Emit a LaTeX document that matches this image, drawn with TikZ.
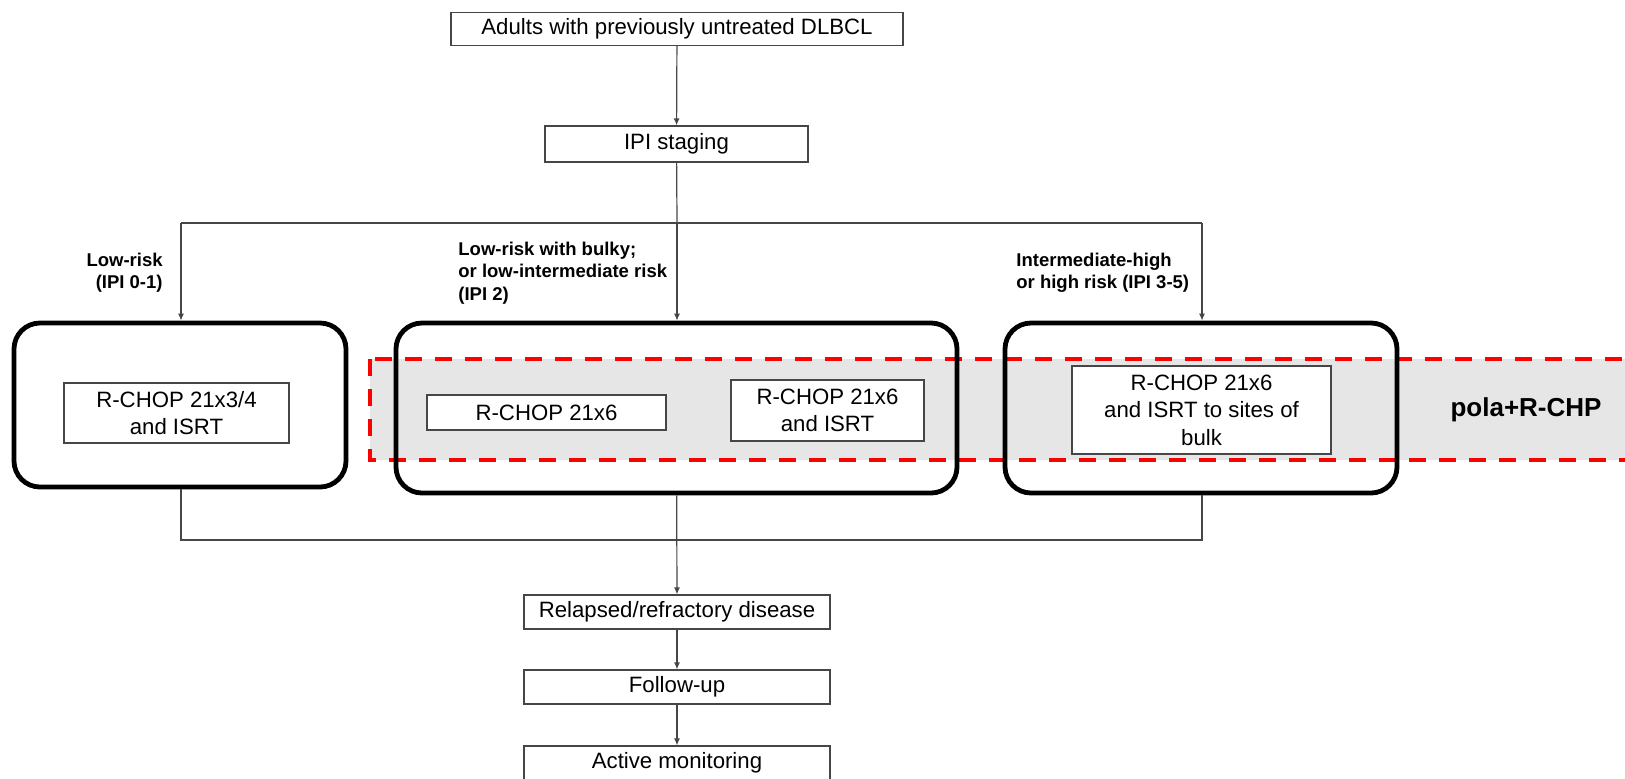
\documentclass[tikz,border=0pt]{standalone}
\usepackage{fontspec}
\setmainfont{Liberation Sans}
\usepackage{tikz}
\usetikzlibrary{arrows.meta, positioning}
\definecolor{bandgray}{RGB}{230,230,230}
\definecolor{linegray}{RGB}{70,70,70}

\begin{document}
\begin{tikzpicture}[x=0.5pt, y=-0.5pt, every node/.style={font=\fontsize{11.1}{13.7}\selectfont}]
    \tikzset{stepbox/.style={rectangle, draw=linegray, fill=white, line width=0.6pt,
                             minimum width=153pt, minimum height=17pt, align=center, inner sep=1pt},
             armbox/.style={rectangle, rounded corners=13pt, draw=black, line width=2.4pt,
                            minimum height=85pt},
             risk/.style={font=\fontsize{9.25}{11.2}\selectfont\bfseries, inner sep=0pt},
             arr/.style={-{Latex[length=3.5pt, width=3pt]}, linegray, line width=0.6pt},
             wire/.style={linegray, line width=0.6pt}}
    \clip (0,0) rectangle (1625,778);
    % pola+R-CHP band
    \fill[bandgray] (370,359) rectangle (1645,460);
    \draw[red, line width=1.7pt, dash pattern=on 8.3pt off 6.7pt] (370,359) rectangle (1645,460);
    \node[font=\fontsize{13}{15}\selectfont\bfseries] (pola) at (1526,410) {pola+R-CHP};
    % top of the flow
    \node[stepbox, minimum width=226pt, minimum height=16.5pt] (adults) at (677,29) {Adults with previously untreated DLBCL};
    \node[stepbox, minimum width=131.5pt, minimum height=18pt] (ipi) at (676.5,144) {IPI staging};
    % treatment arms
    \node[armbox, minimum width=166pt, minimum height=82pt] (lowbox) at (180,405) {};
    \node[armbox, minimum width=280.5pt] (midbox) at (676.5,408) {};
    \node[armbox, minimum width=196pt] (highbox) at (1201,408) {};
    \node[stepbox, minimum width=112.5pt, minimum height=30pt] (rc34) at (176.5,413) {R-CHOP 21x3/4\\and ISRT};
    \node[stepbox, minimum width=119.5pt, minimum height=17.5pt] (rc6) at (546.5,412.5) {R-CHOP 21x6};
    \node[stepbox, minimum width=96.5pt, minimum height=30.5pt] (rc6isrt) at (827.5,410.5) {R-CHOP 21x6\\and ISRT};
    \node[stepbox, minimum width=129.5pt, minimum height=44pt] (rc6bulk) at (1201.5,410) {R-CHOP 21x6\\and ISRT to sites of\\bulk};
    % risk groups
    \node[risk, anchor=east, align=right] (lowlbl) at (163,273) {Low-risk\\(IPI 0-1)};
    \node[risk, anchor=west, align=left] (midlbl) at (458,273) {Low-risk with bulky;\\or low-intermediate risk\\(IPI 2)};
    \node[risk, anchor=west, align=left] (highlbl) at (1016,273) {Intermediate-high\\or high risk (IPI 3-5)};
    % bottom of the flow
    \node[stepbox] (relapsed) at (677,612) {Relapsed/refractory disease};
    \node[stepbox] (followup) at (677,687) {Follow-up};
    \node[stepbox] (active) at (677,763) {Active monitoring};
    \coordinate (split) at (677,223);
    \coordinate (splitl) at (181,223);
    \coordinate (splitr) at (1202,223);
    \coordinate (joinl) at (181,540);
    \coordinate (joinr) at (1202,540);
    \draw[arr] (adults) -- (ipi);
    \draw[wire] (ipi) -- (split);
    \draw[wire] (splitl) -- (splitr);
    \foreach \a/\b in {splitl/lowbox, split/midbox, splitr/highbox}
      \draw[arr] (\a) -- (\a |- \b.north);
    \draw[wire] (lowbox.south -| joinl) -- (joinl) -- (joinr) -- (highbox.south -| joinr);
    \draw[arr] (midbox) -- (relapsed);
    \foreach \a/\b in {relapsed/followup, followup/active}
      \draw[arr] (\a) -- (\b);
  \end{tikzpicture}
\end{document}
